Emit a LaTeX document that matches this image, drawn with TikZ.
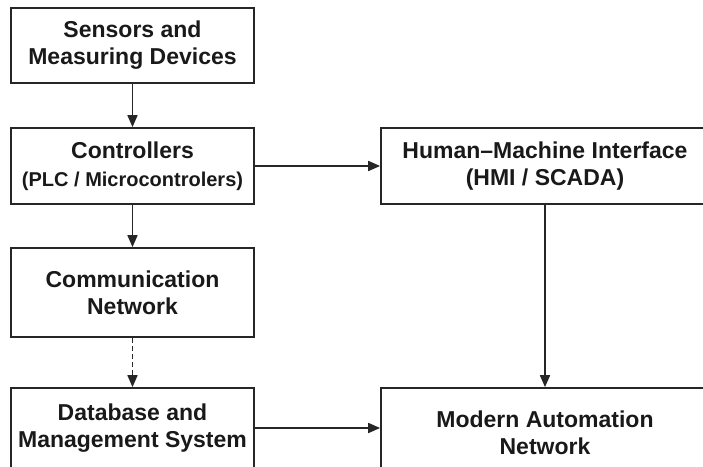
\documentclass[tikz,border=0pt]{standalone}
\usepackage{fontspec}
\setmainfont{Liberation Sans}
\usetikzlibrary{arrows.meta}

\begin{document}
\begin{tikzpicture}[x=1pt, y=-1pt,
    box/.style={draw=black!85, line width=1.7pt, inner sep=0pt, align=center,
      font=\fontsize{23}{27}\selectfont\bfseries, text=black!90},
    smallbox/.style={box, minimum width=243pt},
    widebox/.style={box, minimum width=328pt},
    flow/.style={draw=black!85, line width=1.7pt, -{Triangle[length=12pt,width=10pt]}}]
  \useasboundingbox (0,0) rectangle (703,466);
  \clip (0,0) rectangle (703,466);

  \node[smallbox, minimum height=75pt] (sens) at (132.5,45.5) {Sensors and\\Measuring Devices};
  \node[smallbox, minimum height=76pt] (ctrl) at (132.5,166)
    {Controllers\\[1pt]{\fontsize{20}{25}\selectfont(PLC / Microcontrolers)}};
  \node[smallbox, minimum height=89pt] (comm) at (132.5,292.5) {Communication\\Network};
  \node[smallbox, minimum height=80pt] (db) at (132.5,428) {Database and\\Management System};
  \node[widebox, minimum height=76pt] (hmi) at (545,166) {Human–Machine Interface\\(HMI / SCADA)};
  \node[widebox, minimum height=90pt] (man) at (545,433) {Modern Automation\\Network};

  \draw[flow] (sens) to (ctrl);
  \draw[flow] (ctrl) to (comm);
  \draw[flow, dash pattern=on 5pt off 3pt] (comm) to (db);
  \draw[flow] (ctrl) to (hmi);
  \draw[flow] (hmi) to (man);
  \draw[flow] (db.east) to (db.east -| man.west);
\end{tikzpicture}
\end{document}
